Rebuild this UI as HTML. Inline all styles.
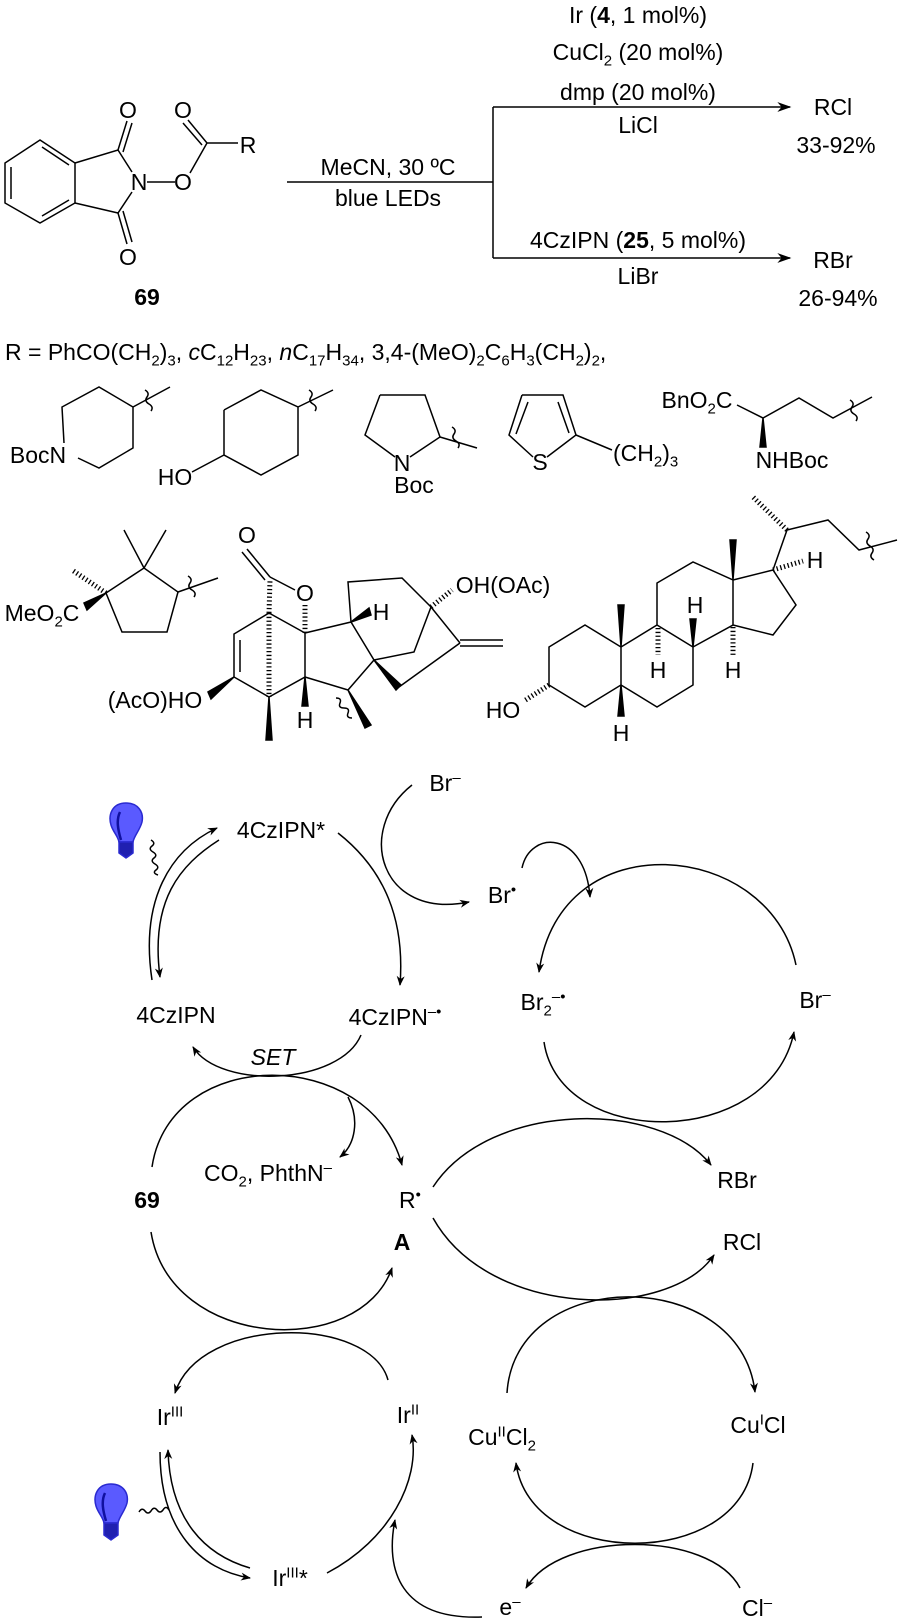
<!DOCTYPE html>
<html><head><meta charset="utf-8"><style>
body{margin:0;background:#fff}
#w{position:relative;width:900px;height:1621px;overflow:hidden;background:#fff}
svg{position:absolute;left:0;top:0}
.t{position:absolute;font-family:"Liberation Sans",sans-serif;font-size:23px;line-height:26px;white-space:nowrap;color:#000;transform:translate(-50%,-50%)}
.l{transform:translate(0,-50%)}
sub,sup{font-size:15px;line-height:0}
b{font-weight:bold}
</style></head><body><div id="w">
<svg width="900" height="1621" viewBox="0 0 900 1621" fill="none" stroke="#000" stroke-width="1.5">
<defs>
<marker id="a" viewBox="0 0 10 10" refX="9" refY="5" markerWidth="10" markerHeight="10" orient="auto" markerUnits="userSpaceOnUse"><path d="M0,1 L10,5 L0,9 L3,5z" fill="#000" stroke="none"/></marker>
<marker id="b" viewBox="0 0 10 10" refX="9" refY="5" markerWidth="14" markerHeight="14" orient="auto" markerUnits="userSpaceOnUse"><path d="M0,1.5 L10,5 L0,8.5 L3,5z" fill="#000" stroke="none"/></marker>
</defs>
<!-- phthalimide -->
<path d="M40,140 L75,163 L75,203 L40,223 L5,203 L5,163 Z"/>
<path d="M11,167 L11,199 M42,147 L69,165 M42,216 L69,200"/>
<path d="M75,163 L118,150 L132,172 M132,192 L118,213 L75,203"/>
<path d="M118,150 L127,121 M123,152 L132,123 M118,213 L127,244 M123,211 L132,242"/>
<path d="M147,182 L175,182 M190,173 L207,143 L238,143 M207,143 L188,120 M202,145 L183,123"/>
<!-- reaction arrows -->
<path d="M287,182 L493,182 M493,107 L493,258"/>
<path d="M493,107 L790,107" marker-end="url(#b)"/>
<path d="M493,258 L790,258" marker-end="url(#b)"/>
<!-- piperidine -->
<path d="M64,443 L62,407 L99,387 L133,407 L133,448 L99,468 L78,458 M133,407 L170,387"/>
<path d="M145,390 q5,3 2,7 q-3,4 2,7 q5,3 2,7"/>
<!-- cyclohexanol -->
<path d="M224,410 L261,390 L298,407 L298,455 L261,475 L224,455 L224,410 M224,455 L192,472 M298,407 L333,390"/>
<path d="M309,390 q5,3 2,7 q-3,4 2,7 q5,3 2,7"/>
<!-- pyrrolidine -->
<path d="M380,395 L425,395 L440,437 L410,457 M395,457 L365,435 L380,395 M440,437 L477,448"/>
<path d="M452,427 q5,3 2,7 q-3,4 2,7 q5,3 2,7"/>
<!-- thiophene -->
<path d="M522,395 L563,395 L576,435 L547,457 M533,457 L509,435 L522,395 M528,402 L516,434 M558,402 L569,433 M576,435 L612,450"/>
<!-- amino acid -->
<path d="M737,405 L763,418 L799,398 L833,418 L872,397"/>
<polygon points="763,418 760,447 766,447" fill="#000"/>
<path d="M850,400 q5,3 2,7 q-3,4 2,7 q5,3 2,7"/>
<!-- cyclopentane -->
<path d="M106,593 L144,568 L178,592 L167,632 L122,632 Z M144,568 L124,530 M144,568 L166,530 M178,592 L218,578"/>
<path d="M106,593 L72,570" stroke-width="5" stroke-dasharray="1.3,2.5"/>
<polygon points="106,593 84,603 87,610" fill="#000"/>
<path d="M188,576 q5,3 2,7 q-3,4 2,7 q5,3 2,7"/>
<!-- gibberellin -->
<path d="M270,577 L247,549 M265,580 L242,552 M270,577 L295,590"/>
<path d="M269,613 L270,580 M305,605 L305,633 M269,613 L269,697" stroke-width="5" stroke-dasharray="1.3,2.5"/>
<path d="M269,613 L305,633 M269,613 L234,634 L234,677 L269,697 L305,677 L305,633 L351,622 L348,582 L402,578 L431,607 L460,643 M240,640 L240,672"/>
<path d="M460,640 L503,640 M460,646 L503,646"/>
<path d="M431,607 L452,590" stroke-width="5" stroke-dasharray="1.3,2.5"/>
<path d="M351,622 L374,660 L414,652 L431,607 M399,687 L460,643 M374,660 L348,690 L305,677"/>
<polygon points="234,677 208,692 211,699" fill="#000"/>
<polygon points="269,697 266,740 272,740" fill="#000"/>
<polygon points="305,677 302,706 308,706" fill="#000"/>
<polygon points="351,622 369,608 371,615" fill="#000"/>
<polygon points="374,660 396,690 401,685" fill="#000"/>
<polygon points="348,690 365,728 371,725" fill="#000"/>
<path d="M336,698 q6,0 4,5 q-2,5 4,5 q6,0 4,5 q-2,5 4,5"/>
<!-- steroid -->
<path d="M585,625 L621,647 L621,685 L585,707 L549,685 L549,647 Z M621,647 L657,625 L693,647 L693,685 L657,707 L621,685 M657,625 L657,583 L693,562 L733,580 L733,625 L693,647 M733,580 L773,570 L796,605 L773,635 L733,625 M773,570 L787,530 L828,520 L859,550 L897,540"/>
<path d="M549,685 L524,701 M658,628 L658,655 M733,627 L733,655 M773,570 L803,561 M787,530 L753,497" stroke-width="5" stroke-dasharray="1.3,2.5"/>
<polygon points="621,647 618,605 624,605" fill="#000"/>
<polygon points="733,580 730,540 736,540" fill="#000"/>
<polygon points="621,685 618,716 624,716" fill="#000"/>
<polygon points="693,647 690,619 696,619" fill="#000"/>
<path d="M866,532 q5,3 2,7 q-3,4 2,7 q5,3 2,7 q-3,4 2,7"/>
<!-- cycles -->
<path d="M152,980 C140,900 170,850 217,828" marker-end="url(#a)"/>
<path d="M219,840 C180,865 150,900 160,977" marker-end="url(#a)"/>
<path d="M338,833 C385,870 405,920 400,985" marker-end="url(#a)"/>
<path d="M412,785 C355,830 380,920 469,902" marker-end="url(#a)"/>
<path d="M522,868 C530,830 585,830 590,897" marker-end="url(#a)"/>
<path d="M796,965 C770,840 560,820 539,972" marker-end="url(#a)"/>
<path d="M544,1042 C560,1150 770,1150 794,1032" marker-end="url(#a)"/>
<path d="M361,1035 C340,1085 220,1090 193,1047" marker-end="url(#a)"/>
<path d="M152,1167 C170,1045 370,1045 402,1165" marker-end="url(#a)"/>
<path d="M348,1097 C360,1120 355,1145 340,1157" marker-end="url(#a)"/>
<path d="M433,1187 C490,1100 660,1100 711,1165" marker-end="url(#a)"/>
<path d="M433,1218 C490,1320 670,1320 714,1255" marker-end="url(#a)"/>
<path d="M151,1232 C170,1350 360,1360 392,1268" marker-end="url(#a)"/>
<path d="M388,1380 C370,1315 200,1315 175,1393" marker-end="url(#a)"/>
<path d="M160,1452 C160,1530 200,1570 250,1578" marker-end="url(#a)"/>
<path d="M250,1568 C205,1555 170,1520 168,1450" marker-end="url(#a)"/>
<path d="M327,1573 C390,1540 420,1480 412,1435" marker-end="url(#a)"/>
<path d="M482,1617 C400,1620 385,1570 395,1520" marker-end="url(#a)"/>
<path d="M507,1393 C515,1265 740,1265 755,1392" marker-end="url(#a)"/>
<path d="M753,1463 C740,1570 530,1570 516,1463" marker-end="url(#a)"/>
<path d="M740,1588 C710,1530 560,1530 526,1588" marker-end="url(#a)"/>
<!-- wavy light -->
<path d="M151,840 q5,3 1,6 q-4,3 1,6 q5,3 1,6 q-4,3 1,6 q5,3 1,6 q-4,3 2,5"/>
<path d="M139,1512 q3,-5 6,-1 q3,4 6,0 q3,-5 6,-1 q3,4 6,0 q3,-5 6,0"/>
<!-- bulbs -->
<g stroke="#2a2ad0" fill="#5a5aff">
<path d="M126,803 C112,803 108,815 111,825 C113,832 118,836 119,842 L133,842 C134,836 140,830 142,822 C144,812 138,803 126,803Z"/>
<path d="M119,842 L133,842 L133,853 L126,858 L119,853Z" fill="#2020b0"/>
<path d="M111,1484 C97,1484 93,1496 96,1506 C98,1513 103,1517 104,1523 L118,1523 C119,1517 125,1511 127,1503 C129,1493 123,1484 111,1484Z"/>
<path d="M104,1523 L118,1523 L118,1535 L111,1540 L104,1535Z" fill="#2020b0"/>
</g>
<path d="M120,812 C116,820 118,830 121,840 M105,1493 C101,1501 103,1511 106,1521" stroke="#1010a0" stroke-width="2.5"/>
</svg>
<!-- top labels -->
<div class="t" style="left:128px;top:110px">O</div>
<div class="t" style="left:128px;top:257px">O</div>
<div class="t" style="left:139px;top:182px">N</div>
<div class="t" style="left:183px;top:182px">O</div>
<div class="t" style="left:183px;top:110px">O</div>
<div class="t" style="left:248px;top:145px">R</div>
<div class="t" style="left:147px;top:297px"><b>69</b></div>
<div class="t" style="left:388px;top:167px">MeCN, 30 ºC</div>
<div class="t" style="left:388px;top:198px">blue LEDs</div>
<div class="t" style="left:638px;top:15px">Ir (<b>4</b>, 1 mol%)</div>
<div class="t" style="left:638px;top:52px">CuCl<sub>2</sub> (20 mol%)</div>
<div class="t" style="left:638px;top:92px">dmp (20 mol%)</div>
<div class="t" style="left:638px;top:125px">LiCl</div>
<div class="t" style="left:638px;top:240px">4CzIPN (<b>25</b>, 5 mol%)</div>
<div class="t" style="left:638px;top:276px">LiBr</div>
<div class="t" style="left:833px;top:107px">RCl</div>
<div class="t" style="left:836px;top:145px">33-92%</div>
<div class="t" style="left:833px;top:260px">RBr</div>
<div class="t" style="left:838px;top:298px">26-94%</div>
<div class="t l" style="left:5px;top:352px">R = PhCO(CH<sub>2</sub>)<sub>3</sub>, <i>c</i>C<sub>12</sub>H<sub>23</sub>, <i>n</i>C<sub>17</sub>H<sub>34</sub>, 3,4-(MeO)<sub>2</sub>C<sub>6</sub>H<sub>3</sub>(CH<sub>2</sub>)<sub>2</sub>,</div>
<div class="t" style="left:38px;top:455px">BocN</div>
<div class="t" style="left:175px;top:477px">HO</div>
<div class="t" style="left:402px;top:463px">N</div>
<div class="t" style="left:414px;top:485px">Boc</div>
<div class="t" style="left:540px;top:462px">S</div>
<div class="t l" style="left:613px;top:453px">(CH<sub>2</sub>)<sub>3</sub></div>
<div class="t" style="left:697px;top:400px">BnO<sub>2</sub>C</div>
<div class="t" style="left:792px;top:460px">NHBoc</div>
<div class="t" style="left:42px;top:613px">MeO<sub>2</sub>C</div>
<div class="t" style="left:247px;top:535px">O</div>
<div class="t" style="left:305px;top:593px">O</div>
<div class="t" style="left:155px;top:700px">(AcO)HO</div>
<div class="t" style="left:305px;top:720px">H</div>
<div class="t" style="left:381px;top:612px">H</div>
<div class="t" style="left:503px;top:585px">OH(OAc)</div>
<div class="t" style="left:503px;top:710px">HO</div>
<div class="t" style="left:621px;top:733px">H</div>
<div class="t" style="left:658px;top:670px">H</div>
<div class="t" style="left:695px;top:605px">H</div>
<div class="t" style="left:733px;top:670px">H</div>
<div class="t" style="left:815px;top:560px">H</div>
<!-- cycle labels -->
<div class="t" style="left:445px;top:783px">Br<sup>–</sup></div>
<div class="t" style="left:281px;top:830px">4CzIPN*</div>
<div class="t" style="left:502px;top:895px">Br<sup>•</sup></div>
<div class="t" style="left:176px;top:1015px">4CzIPN</div>
<div class="t" style="left:395px;top:1017px">4CzIPN<sup>–•</sup></div>
<div class="t" style="left:543px;top:1002px">Br<sub>2</sub><sup>–•</sup></div>
<div class="t" style="left:815px;top:1000px">Br<sup>–</sup></div>
<div class="t" style="left:273px;top:1057px"><i>SET</i></div>
<div class="t" style="left:268px;top:1173px">CO<sub>2</sub>, PhthN<sup>–</sup></div>
<div class="t" style="left:147px;top:1200px"><b>69</b></div>
<div class="t" style="left:410px;top:1200px">R<sup>•</sup></div>
<div class="t" style="left:737px;top:1180px">RBr</div>
<div class="t" style="left:402px;top:1242px"><b>A</b></div>
<div class="t" style="left:742px;top:1242px">RCl</div>
<div class="t" style="left:170px;top:1417px">Ir<sup>III</sup></div>
<div class="t" style="left:408px;top:1415px">Ir<sup>II</sup></div>
<div class="t" style="left:502px;top:1437px">Cu<sup>II</sup>Cl<sub>2</sub></div>
<div class="t" style="left:758px;top:1425px">Cu<sup>I</sup>Cl</div>
<div class="t" style="left:290px;top:1578px">Ir<sup>III</sup>*</div>
<div class="t" style="left:510px;top:1607px">e<sup>–</sup></div>
<div class="t" style="left:757px;top:1608px">Cl<sup>–</sup></div>
</div></body></html>
